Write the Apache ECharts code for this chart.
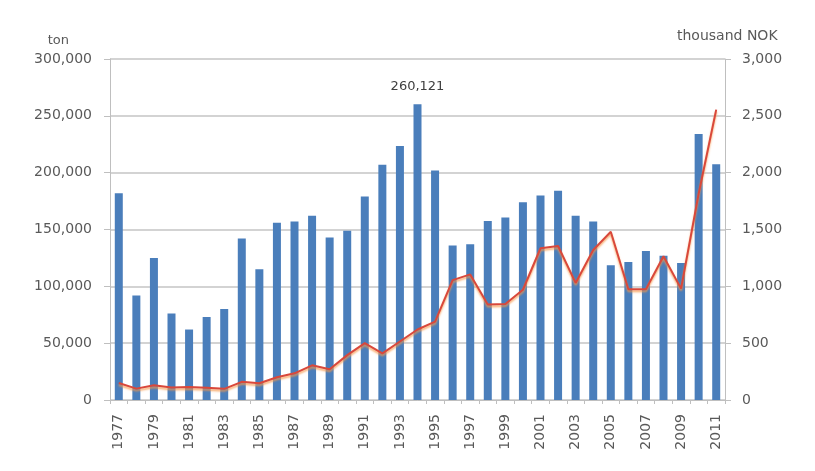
<!DOCTYPE html>
<html><head><meta charset="utf-8">
<script src="https://cdn.jsdelivr.net/npm/echarts@6/dist/echarts.min.js"></script>
<style>html,body{margin:0;padding:0;background:#fff}#c{width:815px;height:471px}</style>
</head><body><div id="c"></div>
<script>
const years = ['1977','1978','1979','1980','1981','1982','1983','1984','1985','1986','1987','1988','1989','1990','1991','1992','1993','1994','1995','1996','1997','1998','1999','2000','2001','2002','2003','2004','2005','2006','2007','2008','2009','2010','2011'];
const tons = [182000,92000,125000,76000,62000,73000,80000,142000,115000,156000,157000,162000,143000,149000,179000,207000,223500,260121,202000,136000,137000,157500,160500,174000,180000,184000,162000,157000,118500,121500,131000,127000,120500,234000,207500];
const valueNOK = [150,100,130,110,115,108,98,160,148,200,235,305,270,395,500,410,515,620,690,1055,1105,840,845,970,1335,1355,1030,1320,1480,975,975,1265,980,1815,2555];
const leftTicksName = 'ton';
const rightTicksName = 'thousand NOK';
const peakYear = '1994';

const fmt = v => v.toLocaleString('en-US');
const chart = echarts.init(document.getElementById('c'));
const FF = 'DejaVu Sans, Verdana, sans-serif';
const txt = {color:'#595959', fontFamily:FF, fontSize:14};
chart.setOption({
  animation:false,
  grid:{left:110,right:90,top:59,bottom:71},
  xAxis:{type:'category',data:years,
    axisLine:{lineStyle:{color:'#bfbfbf'}},
    axisTick:{show:true,interval:0,length:4,lineStyle:{color:'#bfbfbf'}},
    axisLabel:Object.assign({},txt,{rotate:90,interval:1,margin:14})},
  yAxis:[
    {type:'value',min:0,max:300000,interval:50000,name:leftTicksName,
     nameTextStyle:Object.assign({},txt,{fontSize:13,align:'right',padding:[0,41,0,0]}),nameGap:12,
     axisLine:{show:true,lineStyle:{color:'#bfbfbf'}},
     axisTick:{show:true,length:6,lineStyle:{color:'#bfbfbf'}},
     splitLine:{lineStyle:{color:'#c4c4c4',width:1.5}},
     axisLabel:Object.assign({},txt,{formatter:fmt,margin:18})},
    {type:'value',min:0,max:3000,interval:500,name:rightTicksName,position:'right',
     nameTextStyle:Object.assign({},txt,{fontSize:14,align:'left',padding:[0,0,0,-48]}),nameGap:16,
     axisLine:{show:true,lineStyle:{color:'#bfbfbf'}},
     axisTick:{show:true,length:6,lineStyle:{color:'#bfbfbf'}},
     splitLine:{show:false},
     axisLabel:Object.assign({},txt,{formatter:fmt,margin:17})}
  ],
  series:[
    {type:'bar',data:tons.map((v,i)=>({value:v,label:{show:years[i]===peakYear,position:'top',distance:11,
        formatter:p=>fmt(p.value),color:'#404040',fontFamily:FF,fontSize:13}})),
     barWidth:8,itemStyle:{color:'#4a7ebb'}},
    {type:'line',yAxisIndex:1,data:valueNOK,symbol:'none',
     lineStyle:{color:'#d9483b',width:2,shadowColor:'rgba(247,150,70,0.8)',shadowBlur:2,shadowOffsetY:2}}
  ]
});
</script></body></html>
